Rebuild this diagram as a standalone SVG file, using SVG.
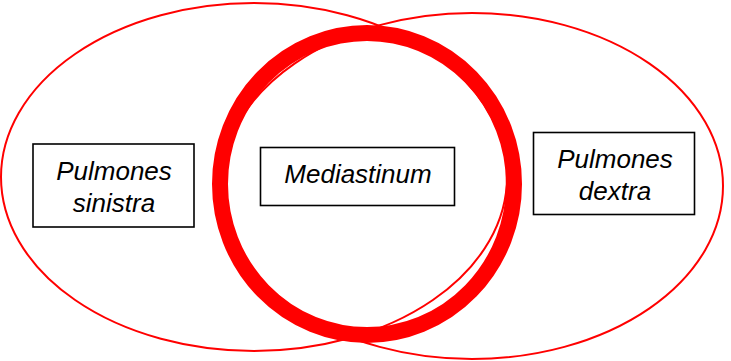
<svg xmlns="http://www.w3.org/2000/svg" width="731" height="361" viewBox="0 0 731 361">
<style>
.thin{fill:none;stroke:#ff0000;stroke-width:2}
.ring{fill:none;stroke:#ff0000;stroke-width:16}
.box{fill:#ffffff;stroke:#000000;stroke-width:1.6}
.lbl{font-family:"Liberation Sans",Arial,sans-serif;font-style:italic;font-size:26px;fill:#000000;text-anchor:middle}
</style>
<rect width="731" height="361" fill="#ffffff"/>
<g id="connectors">
<ellipse class="thin" cx="254" cy="177" rx="253" ry="174"/>
<ellipse class="thin" cx="472" cy="186" rx="251" ry="173"/>
<ellipse class="ring" cx="367" cy="184" rx="147" ry="151"/>
</g>
<g id="node-sinistra">
<rect class="box" x="33" y="144" width="161" height="83"/>
<text class="lbl" x="114" y="180">Pulmones</text>
<text class="lbl" x="114" y="212">sinistra</text>
</g>
<g id="node-mediastinum">
<rect class="box" x="260.5" y="147.5" width="194" height="58"/>
<text class="lbl" x="358" y="183">Mediastinum</text>
</g>
<g id="node-dextra">
<rect class="box" x="533.5" y="132.5" width="161" height="82"/>
<text class="lbl" x="615" y="168">Pulmones</text>
<text class="lbl" x="615" y="200">dextra</text>
</g>
</svg>
